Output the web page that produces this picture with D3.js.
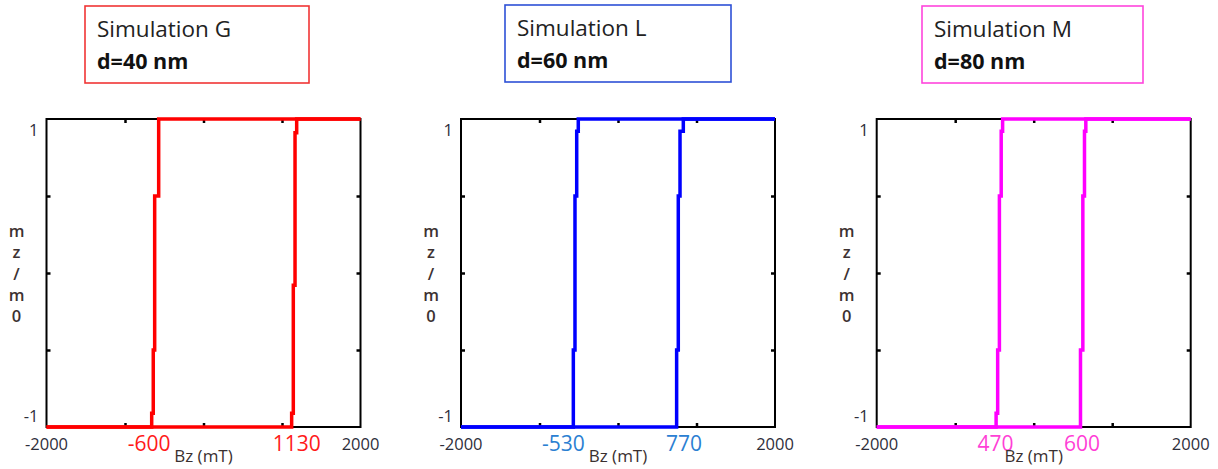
<!DOCTYPE html>
<html>
<head>
<meta charset="utf-8">
<script src="https://cdn.jsdelivr.net/npm/d3@7"></script>
<style>
  body { margin: 0; background: #fff; }
  svg { display: block; font-family: 'Open Sans', sans-serif; }
</style>
</head>
<body>
<div id="chart"></div>
<script>
// Panel titles
const simNames = ['Simulation G', 'Simulation L', 'Simulation M'];
const thickness = ['d=40 nm', 'd=60 nm', 'd=80 nm'];

// Hysteresis branches [Bz (mT), mz/m0]
const downG = [[2000, 1], [-571, 1], [-571, 0.5], [-622, 0.5], [-622, -0.5], [-640, -0.5], [-640, -0.91], [-660, -0.91], [-660, -1], [-2000, -1]];
const upG = [[-2000, -1], [1123, -1], [1123, -0.91], [1144, -0.91], [1144, -0.08], [1166, -0.08], [1166, 0.91], [1187, 0.91], [1187, 1], [2000, 1]];
const downL = [[2000, 1], [-506, 1], [-506, 0.92], [-526, 0.92], [-526, 0.5], [-548, 0.5], [-548, -0.5], [-569, -0.5], [-569, -1], [-2000, -1]];
const upL = [[-2000, -1], [747, -1], [747, -0.5], [768, -0.5], [768, 0.5], [790, 0.5], [790, 0.92], [832, 0.92], [832, 1], [2000, 1]];
const downM = [[2000, 1], [-396, 1], [-396, 0.92], [-414, 0.92], [-414, 0.5], [-437, 0.5], [-437, -0.5], [-459, -0.5], [-459, -0.91], [-479, -0.91], [-479, -1], [-2000, -1]];
const upM = [[-2000, -1], [596, -1], [596, -0.5], [626, -0.5], [626, 0.5], [647, 0.5], [647, 0.92], [664, 0.92], [664, 1], [2000, 1]];

// Switching field annotations: text and where they sit on the Bz axis
const fieldText = [['-600', '1130'], ['-530', '770'], ['470', '600']];
const fieldAt = [[-694, 1187], [-697, 841], [-486, 617]];

// Axis ticks
const xTickLabels = [-2000, 2000];
const xTicks = [-1000, 0, 1000];
const yTickLabels = [1, -1];
const yTicks = [-0.5, 0, 0.5];
const yLabel = ['m', 'z', '/', 'm', '0'];

const lineColor = ['#ff0000', '#0000ff', '#ff00ff'];
const boxColor = ['#f03535', '#2d50d6', '#ff45dc'];
const noteColor = ['#ff1a1a', '#2b80d2', '#ff3fd6'];
const branches = [[downG, upG], [downL, upL], [downM, upM]];

// layout
const W = 1218, H = 469;
const frameLeft = [46.5, 461, 876.7], frameTop = 119, fw = 314, fh = 308;
const boxes = [[85, 6, 224, 77], [505, 5, 226, 77], [922, 6, 221, 77]];

const svg = d3.select('#chart').append('svg').attr('width', W).attr('height', H);

const x = d3.scaleLinear().domain([-2000, 2000]).range([0, fw]);
const y = d3.scaleLinear().domain([-1, 1]).range([fh, 0]);
const line = d3.line().x(d => x(d[0])).y(d => y(d[1]));

simNames.forEach((name, i) => {
  // title box
  const b = boxes[i];
  const tb = svg.append('g').attr('transform', `translate(${b[0]},${b[1]})`);
  tb.append('rect').attr('width', b[2]).attr('height', b[3])
    .attr('fill', 'none').attr('stroke', boxColor[i]).attr('stroke-width', 1.6);
  tb.append('text').attr('x', 12).attr('y', 31)
    .attr('font-size', 22.5).attr('fill', '#222').text(name);
  tb.append('text').attr('x', 12).attr('y', 62.5)
    .attr('font-size', 21.5).attr('font-weight', 700).attr('fill', '#111').text(thickness[i]);

  const g = svg.append('g').attr('transform', `translate(${frameLeft[i]},${frameTop})`);

  // inward ticks on all four sides
  g.append('g').attr('transform', `translate(0,${fh})`)
    .call(d3.axisBottom(x).tickValues(xTicks).tickSizeInner(-4).tickSizeOuter(0).tickFormat(''));
  g.append('g')
    .call(d3.axisTop(x).tickValues(xTicks).tickSizeInner(-4).tickSizeOuter(0).tickFormat(''));
  g.append('g')
    .call(d3.axisLeft(y).tickValues(yTicks).tickSizeInner(-4).tickSizeOuter(0).tickFormat(''));
  g.append('g').attr('transform', `translate(${fw},0)`)
    .call(d3.axisRight(y).tickValues(yTicks).tickSizeInner(-4).tickSizeOuter(0).tickFormat(''));
  g.selectAll('.domain').remove();
  g.selectAll('.tick line').attr('stroke', '#000').attr('stroke-width', 2.5);

  // frame
  g.append('rect').attr('width', fw).attr('height', fh)
    .attr('fill', 'none').attr('stroke', '#000').attr('stroke-width', 2);

  // hysteresis loop
  branches[i].forEach(br => {
    g.append('path').attr('d', line(br))
      .attr('fill', 'none').attr('stroke', lineColor[i])
      .attr('stroke-width', 3.5).attr('stroke-linejoin', 'miter');
  });

  // x tick labels
  g.selectAll('.xlab').data(xTickLabels).enter().append('text')
    .attr('x', d => x(d)).attr('y', fh + 23)
    .attr('text-anchor', 'middle').attr('font-size', 16.5).attr('fill', '#2e2e3a')
    .text(d => d);

  // y tick labels (pulled inside the ends)
  g.selectAll('.ylab').data(yTickLabels).enter().append('text')
    .attr('x', -8).attr('y', d => y(d) + (d > 0 ? 17 : -5))
    .attr('text-anchor', 'end').attr('font-size', 16.5).attr('fill', '#2e2e3a')
    .text(d => d);

  // switching field annotations
  fieldText[i].forEach((t, k) => {
    g.append('text').attr('x', x(fieldAt[i][k])).attr('y', fh + 23.5)
      .attr('text-anchor', 'middle').attr('font-size', 21).attr('fill', noteColor[i])
      .text(t);
  });

  // axis titles
  g.append('text').attr('x', fw / 2).attr('y', fh + 35)
    .attr('text-anchor', 'middle').attr('font-size', 17).attr('fill', '#3a3030')
    .text('Bz (mT)');

  g.selectAll('.ytitle').data(yLabel).enter().append('text')
    .attr('x', -30).attr('y', (d, k) => 118 + k * 21.3)
    .attr('text-anchor', 'middle').attr('font-size', 16.5).attr('font-weight', 600)
    .attr('fill', '#3d3232')
    .text(d => d);
});
</script>
</body>
</html>
